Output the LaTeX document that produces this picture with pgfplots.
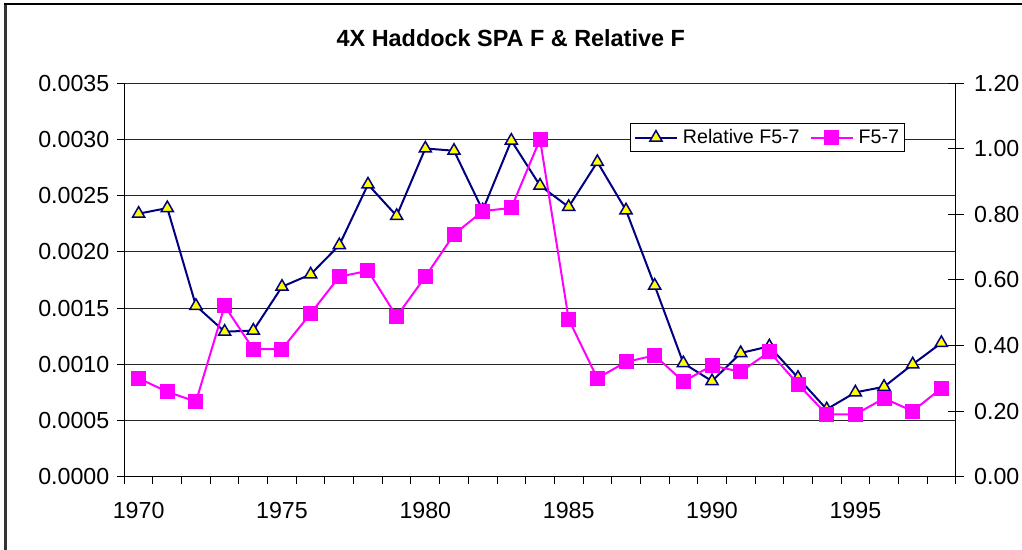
\documentclass[border=0pt]{standalone}
\usepackage{fontspec}
\setmainfont{Liberation Sans}
\usepackage{pgfplots}
\pgfplotsset{compat=1.18}
\definecolor{navyc}{RGB}{0,0,128}
\definecolor{magc}{RGB}{255,0,255}
\definecolor{yelc}{RGB}{255,255,0}
\begin{document}
\begin{tikzpicture}[x=1bp,y=1bp]
\path[use as bounding box] (0,0) rectangle (1022,550);
\draw[line width=2.5bp, black!80] (5.5,0) -- (5.5,546.2);
\draw[line width=1.6bp, black] (4.3,546.2) -- (1022,546.2);
\node[font=\fontsize{23.5}{28}\selectfont\bfseries, inner sep=0pt] at (510.8,512.1) {4X Haddock SPA F \& Relative F};
\begin{axis}[
  at={(124.3bp,73.3bp)}, anchor=south west, scale only axis,
  width=831.4bp, height=393.4bp,
  xmin=1969.5, xmax=1998.5, ymin=0, ymax=0.0035,
  axis x line*=bottom, axis y line*=left,
  axis line style={line width=1bp, -},
  xtick={1970,1975,1980,1985,1990,1995},
  xticklabels={1970,1975,1980,1985,1990,1995},
  minor xtick={1969.5,1970.5,...,1998.5},
  ytick={0,0.0005,0.001,0.0015,0.002,0.0025,0.003,0.0035},
  scaled y ticks=false,
  yticklabel style={/pgf/number format/.cd, fixed, fixed zerofill, precision=4, /tikz/.cd, xshift=-3.9bp},
  /pgf/number format/assume math mode=true,
  ticklabel style={font=\fontsize{23.3}{28}\selectfont},
  xticklabel style={yshift=-14bp},
  tick align=outside,
  major tick length=7.6bp, minor tick length=7.6bp,
  major x tick style={draw=none},
  tick style={black, line width=1bp},
  minor tick style={black, line width=1bp},
  ymajorgrids, grid style={black!85, line width=0.9bp},
  clip=false,
]
\addplot[navyc, line width=2bp, mark=triangle*, mark size=7bp,
  mark options={fill=yelc, draw=navyc, line width=1.5bp}] coordinates {
(1970,0.00234) (1971,0.00239) (1972,0.00152) (1973,0.00129) (1974,0.00130)
(1975,0.00169) (1976,0.00180) (1977,0.00206) (1978,0.00260) (1979,0.00232)
(1980,0.00292) (1981,0.00290) (1982,0.00237) (1983,0.00299) (1984,0.00259)
(1985,0.00240) (1986,0.00280) (1987,0.00237) (1988,0.00170) (1989,0.00101)
(1990,0.00085) (1991,0.00110) (1992,0.00116) (1993,0.00088) (1994,0.00060)
(1995,0.00075) (1996,0.00080) (1997,0.00100) (1998,0.00119)
};
\end{axis}
\begin{axis}[
  at={(124.3bp,73.3bp)}, anchor=south west, scale only axis,
  width=831.4bp, height=393.4bp,
  xmin=1969.5, xmax=1998.5, ymin=0, ymax=1.2,
  axis x line=none, axis y line*=right,
  axis line style={line width=1bp, -},
  ytick={0,0.2,0.4,0.6,0.8,1.0,1.2},
  yticklabel style={/pgf/number format/.cd, fixed, fixed zerofill, precision=2, /tikz/.cd, xshift=7bp},
  /pgf/number format/assume math mode=true,
  ticklabel style={font=\fontsize{23.3}{28}\selectfont},
  tick align=center, major tick length=16bp,
  tick style={black, line width=1bp},
  clip=false,
  legend columns=2,
  legend style={at={(0.7736,0.862)}, anchor=center, draw=black, line width=1bp,
    font=\fontsize{19.7}{23}\selectfont, inner xsep=3bp, inner ysep=4bp,
    /tikz/every odd column/.append style={column sep=3bp},
    /tikz/every even column/.append style={column sep=8bp}},
  legend image code/.code={\draw[mark repeat=2, mark phase=2] plot coordinates {(0bp,0bp) (21bp,0bp) (42bp,0bp)};},
]
\addlegendimage{navyc, line width=2bp, mark=triangle*, mark size=7bp,
  mark options={fill=yelc, draw=navyc, line width=1.5bp}}
\addlegendentry{Relative F5-7}
\addplot[magc, line width=2bp, mark=square*, mark size=6.5bp,
  mark options={fill=magc, draw=magc}] coordinates {
(1970,0.300) (1971,0.259) (1972,0.229) (1973,0.521) (1974,0.389)
(1975,0.389) (1976,0.498) (1977,0.610) (1978,0.628) (1979,0.489)
(1980,0.610) (1981,0.739) (1982,0.810) (1983,0.820) (1984,1.029)
(1985,0.480) (1986,0.300) (1987,0.350) (1988,0.370) (1989,0.290)
(1990,0.339) (1991,0.320) (1992,0.381) (1993,0.282) (1994,0.190)
(1995,0.190) (1996,0.239) (1997,0.200) (1998,0.270)
};
\addlegendentry{F5-7}
\end{axis}
\end{tikzpicture}
\end{document}
